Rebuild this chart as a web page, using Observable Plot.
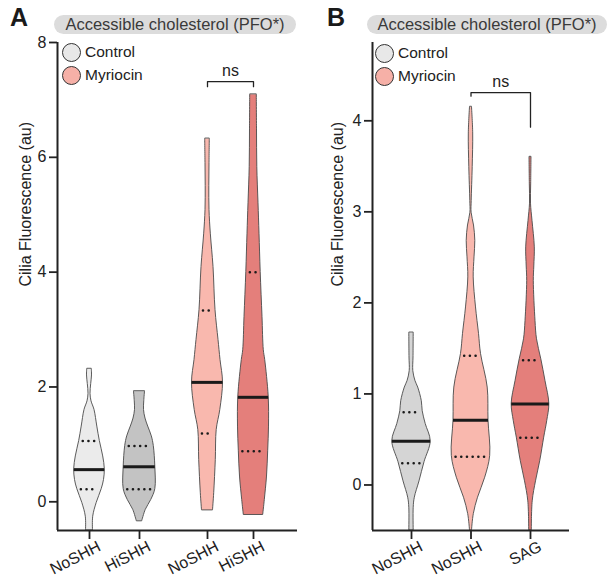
<!DOCTYPE html>
<html>
<head>
<meta charset="utf-8">
<script src="https://cdn.jsdelivr.net/npm/d3@7"></script>
<script src="https://cdn.jsdelivr.net/npm/@observablehq/plot@0.6"></script>
<style>
  html, body { margin: 0; padding: 0; background: #fff; }
  #wrap { position: relative; width: 614px; height: 584px; font-family: "Liberation Sans", Arial, sans-serif; color: #222; }
  .panel { position: absolute; top: 0; }
  .letter { position: absolute; font-weight: bold; font-size: 25px; line-height: 1; color: #1a1a1a; }
  .pill { position: absolute; height: 19px; border-radius: 10px; background: #dcdcdc; color: #3a3a3a; font-size: 16.5px; line-height: 19px; text-align: center; white-space: nowrap; }
  .leg { position: absolute; font-size: 15.5px; line-height: 20px; white-space: nowrap; display: flex; align-items: center; color: #222; }
  .leg .dot { width: 17px; height: 17px; border-radius: 50%; border: 1.6px solid #333; margin-right: 4px; box-sizing: content-box; }
</style>
</head>
<body>
<div id="wrap"></div>
<script>
// ---------------- Data ----------------
const panelTitle = "Accessible cholesterol (PFO*)";
const yLabel = "Cilia Fluorescence (au)";
const legendLabels = ["Control", "Myriocin"];
const legendColors = ["#e8e8e8", "#f6b0a7"];

// Panel A
const groupsA = ["NoSHH", "HiSHH", "NoSHH", "HiSHH"];
const positionsA = [1, 2, 3.36, 4.28];
const colorsA = ["#ebebeb", "#c3c3c3", "#f9b8ae", "#e47f7b"];
const medianA = [0.56, 0.61, 2.08, 1.82];
const q1A = [0.22, 0.22, 1.19, 0.88];
const q3A = [1.06, 0.97, 3.33, 4.0];
// violin profiles: [value, half-width density]
const violinA = [
  [[2.31,0.046],[2.2,0.05],[2.05,0.034],[1.88,0.02],[1.75,0.04],[1.60,0.10],[1.31,0.156],[1.06,0.206],[0.79,0.274],[0.57,0.306],[0.38,0.29],[0.22,0.244],[-0.02,0.144],[-0.26,0.074],[-0.5,0.07]],
  [[1.92,0.11],[1.75,0.095],[1.60,0.09],[1.45,0.12],[1.31,0.174],[1.14,0.246],[0.97,0.286],[0.61,0.316],[0.22,0.316],[0.03,0.234],[-0.14,0.126],[-0.34,0.054]],
  [[6.32,0.046],[5.9,0.04],[5.5,0.036],[5.08,0.04],[4.67,0.066],[4.09,0.12],[3.34,0.16],[2.82,0.22],[2.47,0.26],[2.08,0.31],[1.6,0.256],[1.25,0.184],[0.73,0.166],[0.15,0.134],[-0.15,0.11]],
  [[7.09,0.066],[6.5,0.07],[5.83,0.076],[5.2,0.1],[4.67,0.12],[4.0,0.144],[3.22,0.18],[2.64,0.206],[2.47,0.234],[1.83,0.304],[1.31,0.31],[0.89,0.294],[0.44,0.27],[0.03,0.226],[-0.23,0.194]]
];
const yTicksA = [0, 2, 4, 6, 8];
const bracketA = {from: 2, to: 3, y: 7.32, legLeft: 7.23, legRight: 7.23, label: "ns"};

// Panel B
const groupsB = ["NoSHH", "NoSHH", "SAG"];
const positionsB = [1, 2.19, 3.38];
const colorsB = ["#d5d5d5", "#f9b8ae", "#e47f7b"];
const medianB = [0.48, 0.71, 0.89];
const q1B = [0.24, 0.31, 0.52];
const q3B = [0.80, 1.42, 1.37];
const violinB = [
  [[1.67,0.044],[1.4,0.04],[1.25,0.036],[1.14,0.08],[1.07,0.134],[0.92,0.206],[0.81,0.224],[0.67,0.284],[0.48,0.384],[0.25,0.26],[0.04,0.16],[-0.14,0.066],[-0.25,0.044],[-0.5,0.044]],
  [[4.15,0.02],[3.86,0.044],[3.49,0.034],[3.12,0.014],[2.99,0.012],[2.85,0.06],[2.68,0.086],[2.5,0.07],[2.28,0.054],[1.95,0.1],[1.66,0.16],[1.44,0.2],[1.07,0.334],[0.71,0.35],[0.32,0.384],[0.08,0.284],[-0.14,0.14],[-0.32,0.056],[-0.5,0.02]],
  [[3.6,0.02],[3.31,0.014],[3.09,0.01],[2.9,0.04],[2.61,0.086],[2.4,0.076],[2.24,0.066],[1.8,0.1],[1.6,0.13],[1.38,0.216],[1.14,0.3],[0.89,0.376],[0.70,0.334],[0.52,0.274],[0.26,0.194],[0.04,0.11],[-0.18,0.044],[-0.5,0.026]]
];
const yTicksB = [0, 1, 2, 3, 4];
const bracketB = {from: 1, to: 2, y: 4.31, legLeft: 4.27, legRight: 3.93, label: "ns"};

// ---------------- Helpers ----------------
function halfWidthAt(profile, v) {
  const pts = profile.slice().sort((a, b) => a[0] - b[0]);
  for (let i = 0; i < pts.length - 1; i++) {
    const [v0, w0] = pts[i], [v1, w1] = pts[i + 1];
    if (v >= v0 && v <= v1) return w0 + (w1 - w0) * (v - v0) / (v1 - v0);
  }
  return 0;
}

function makePanel({groups, positions, colors, median, q1, q3, violins, yTicks, yDomain, xDomain, bracket, marginLeft, marginRight, labelDx}) {
  const area = [];
  violins.forEach((prof, i) => prof.forEach(([v, w]) => area.push({g: i, v, x1: positions[i] - w, x2: positions[i] + w})));
  const lines = (vals) => vals.map((v, i) => {
    const w = halfWidthAt(violins[i], v);
    return {v, x1: positions[i] - w, x2: positions[i] + w};
  });
  const bx1 = positions[bracket.from], bx2 = positions[bracket.to];
  const bracketPath = [
    {x: bx1, y: bracket.legLeft}, {x: bx1, y: bracket.y}, {x: bx2, y: bracket.y}, {x: bx2, y: bracket.legRight}
  ];
  const dotted = {stroke: "#1a1a1a", strokeWidth: 2.5, strokeLinecap: "round", strokeDasharray: "0.1 5.6", inset: 4};
  return Plot.plot({
    width: 307,
    height: 584,
    marginLeft, marginRight,
    marginTop: 42,
    marginBottom: 54,
    style: {fontFamily: '"Liberation Sans", Arial, sans-serif', fontSize: "15.5px", color: "#222", background: "transparent", overflow: "visible"},
    x: {domain: xDomain},
    y: {domain: yDomain},
    marks: [
      Plot.areaX(area, {y: "v", x1: "x1", x2: "x2", z: "g", fill: (d) => colors[d.g], stroke: "#4a4a4a", strokeWidth: 0.9, curve: "catmull-rom", clip: true}),
      Plot.ruleY(lines(median), {y: "v", x1: "x1", x2: "x2", stroke: "#1a1a1a", strokeWidth: 3}),
      Plot.ruleY(lines(q1), {y: "v", x1: "x1", x2: "x2", ...dotted}),
      Plot.ruleY(lines(q3), {y: "v", x1: "x1", x2: "x2", ...dotted}),
      Plot.line(bracketPath, {x: "x", y: "y", stroke: "#222", strokeWidth: 1.3}),
      Plot.text([bracket.label], {x: [(bx1 + bx2) / 2], y: [bracket.y], text: (d) => d, dy: -11, fontSize: 16, fill: "#222"}),
      Plot.ruleX([xDomain[0]], {stroke: "#222", strokeWidth: 2}),
      Plot.ruleY([yDomain[0]], {stroke: "#222", strokeWidth: 2}),
      Plot.axisY({ticks: yTicks, tickFormat: (d) => String(d), tickSize: 8, tickPadding: 3, strokeWidth: 1.8, label: null, fontSize: 16}),
      // tick marks only
      Plot.axisX({ticks: positions, tickFormat: () => "", tickSize: 9, strokeWidth: 1.8, label: null}),
      // rotated tick labels only
      Plot.axisX({ticks: positions, tickFormat: (d) => groups[positions.indexOf(d)], tickSize: 9, tickPadding: 2, strokeOpacity: 0, tickRotate: -27, label: null, fontSize: 16, dx: 10, dy: 4}),
      Plot.text([yLabel], {frameAnchor: "left", text: (d) => d, rotate: -90, dx: labelDx, fontSize: 16, fill: "#222"})
    ]
  });
}

const wrap = document.getElementById("wrap");

const plotA = makePanel({
  groups: groupsA, positions: positionsA, colors: colorsA, median: medianA, q1: q1A, q3: q3A,
  violins: violinA, yTicks: yTicksA, yDomain: [-0.5, 8], xDomain: [0.36, 5.16], bracket: bracketA,
  marginLeft: 57, marginRight: 10, labelDx: -32
});
plotA.classList.add("panel");
plotA.style.left = "0px";
wrap.appendChild(plotA);

const plotB = makePanel({
  groups: groupsB, positions: positionsB, colors: colorsB, median: medianB, q1: q1B, q3: q3B,
  violins: violinB, yTicks: yTicksB, yDomain: [-0.5, 4.86], xDomain: [0.22, 4.16], bracket: bracketB,
  marginLeft: 65, marginRight: 45, labelDx: -35
});
plotB.classList.add("panel");
plotB.style.left = "307px";
wrap.appendChild(plotB);

// Overlays: panel letters, title pills, legends
function addDiv(cls, text, style) {
  const d = document.createElement("div");
  d.className = cls;
  if (text != null) d.textContent = text;
  Object.assign(d.style, style);
  wrap.appendChild(d);
  return d;
}
addDiv("letter", "A", {left: "10px", top: "5px"});
addDiv("letter", "B", {left: "327px", top: "5px"});
addDiv("pill", panelTitle, {left: "54px", top: "15px", width: "242px"});
addDiv("pill", panelTitle, {left: "367px", top: "15px", width: "240px"});

function addLegend(left, top) {
  legendLabels.forEach((lab, i) => {
    const row = addDiv("leg", null, {left: left + "px", top: (top + i * 23) + "px"});
    const dot = document.createElement("span");
    dot.className = "dot";
    dot.style.background = legendColors[i];
    row.appendChild(dot);
    const t = document.createElement("span");
    t.textContent = lab;
    row.appendChild(t);
  });
}
addLegend(62, 42);
addLegend(375, 43);
</script>
</body>
</html>
